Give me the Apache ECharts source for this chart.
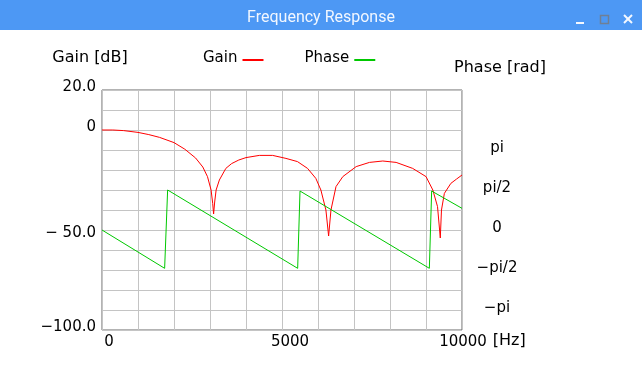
<!DOCTYPE html>
<html>
<head>
<meta charset="utf-8">
<script src="https://cdn.jsdelivr.net/npm/echarts@6/dist/echarts.min.js"></script>
<style>
html,body{margin:0;padding:0;background:#fff;}
#chart{width:642px;height:390px;}
</style>
</head>
<body>
<div id="chart"></div>
<script>
// ---- data ----
const gainFreq = [0, 300, 600, 1000, 1300, 1600, 2000, 2300, 2600, 2800, 2930, 3030, 3075, 3100, 3130, 3170, 3260, 3440, 3600, 3800, 4000, 4370, 4740, 5110, 5430, 5710, 5940, 6080, 6220, 6295, 6360, 6500, 6690, 7060, 7430, 7800, 8170, 8630, 9000, 9190, 9320, 9397, 9430, 9510, 9690, 9850, 10000];
const gainDb = [0, 0, -0.3, -1.2, -2.3, -3.7, -6.3, -9.6, -14, -18.5, -23.3, -30, -36.7, -42, -36, -30, -25, -19.2, -16.8, -15, -13.8, -12.7, -12.7, -14.2, -15.8, -19.2, -24.2, -30, -40, -53, -40, -28.3, -23.3, -18.3, -16.2, -15.5, -16.2, -19.2, -23.3, -30, -38.3, -54, -40, -31.7, -26.7, -24.5, -22.5];
const phaseFreq = [0, 1740, 1823, 5435, 5500, 9093, 9157, 10000];
const phaseRad = [0, -1.505, 1.571, -1.505, 1.53, -1.505, 1.53, 0.851];

const freqTickValues = [0, 5000, 10000];
const freqTickLabels = ['0', '5000', '10000'];
const gainTickValues = [20, 0, -50, -100];
const gainTickLabels = ['20.0', '0', '\u2212 50.0', '\u2212100.0'];
const phaseTickHalfPi = [2, 1, 0, -1, -2];
const phaseTickLabels = ['pi', 'pi/2', '0', '\u2212pi/2', '\u2212pi'];
const legendNames = ['Gain', 'Phase'];
const seriesColors = ['#ff0000', '#00c800'];

// ---- chart ----
const FONT = 'DejaVu Sans';
const chart = echarts.init(document.getElementById('chart'), null, {renderer: 'canvas'});
const gainData = gainFreq.map((f, i) => [f, gainDb[i]]);
const phaseData = phaseFreq.map((f, i) => [f, phaseRad[i]]);
const txt = {fontFamily: FONT, fontSize: 15, color: '#000'};

const xShift = [14, 16, 2];

chart.setOption({
  animation: false,
  backgroundColor: '#fff',
  title: {
    text: 'Frequency Response',
    left: 'center',
    top: 5,
    textStyle: {color: '#f2f7ff', fontSize: 16, fontWeight: 'normal', fontFamily: 'Roboto'}
  },
  graphic: [
    {type: 'rect', z: 0, shape: {x: 0, y: 0, width: 642, height: 30}, style: {fill: '#4d98f4'}},
    {type: 'rect', z: 1, shape: {x: 576, y: 22, width: 8, height: 2}, style: {fill: '#f4f8ff'}},
    {type: 'rect', z: 1, shape: {x: 600.5, y: 15.5, width: 8, height: 8}, style: {fill: 'none', stroke: '#6f7f95', lineWidth: 1.5}},
    {type: 'line', z: 1, shape: {x1: 624, y1: 15, x2: 632, y2: 23}, style: {stroke: '#f4f8ff', lineWidth: 2}},
    {type: 'line', z: 1, shape: {x1: 632, y1: 15, x2: 624, y2: 23}, style: {stroke: '#f4f8ff', lineWidth: 2}}
  ],
  legend: {
    data: legendNames,
    left: 198,
    top: 45.5,
    align: 'right',
    itemGap: 40,
    itemWidth: 21,
    itemHeight: 2,
    formatter: name => '{t|' + name + '}',
    textStyle: {
      fontFamily: FONT, fontSize: 15, color: '#000',
      rich: {t: {fontFamily: FONT, fontSize: 15, color: '#000', padding: [0, 0, 4, 0]}}
    }
  },
  grid: {
    left: 102, top: 90, width: 360, height: 240,
    show: true, borderColor: '#666', borderWidth: 1, containLabel: false
  },
  xAxis: {
    type: 'value', min: 0, max: 10000, interval: 1000,
    name: '[Hz]', nameLocation: 'end', nameGap: 27,
    nameTextStyle: {fontFamily: FONT, fontSize: 16, color: '#000', verticalAlign: 'top', padding: [3, 0, 0, 0]},
    axisLine: {show: false, onZero: false}, axisTick: {show: false},
    splitLine: {show: true, lineStyle: {color: '#c4c4c4', width: 1}},
    axisLabel: {
      margin: 5, fontFamily: FONT, fontSize: 15, color: '#000',
      formatter: v => {
        const i = freqTickValues.indexOf(v);
        return i < 0 ? '' : '{s' + i + '|' + freqTickLabels[i] + '}';
      },
      rich: {
        s0: Object.assign({}, txt, {padding: [0, 0, 0, xShift[0]]}),
        s1: Object.assign({}, txt, {padding: [0, 0, 0, xShift[1]]}),
        s2: Object.assign({}, txt, {padding: [0, 0, 0, xShift[2]]})
      }
    }
  },
  yAxis: [
    {
      type: 'value', min: -100, max: 20, interval: 10,
      name: 'Gain [dB]', nameLocation: 'end', nameGap: 24,
      nameTextStyle: {fontFamily: FONT, fontSize: 16, color: '#000', align: 'center', padding: [0, 24, 0, 0]},
      axisLine: {show: false, onZero: false}, axisTick: {show: false},
      splitLine: {show: true, lineStyle: {color: '#c4c4c4', width: 1}},
      axisLabel: {
        margin: 6, fontFamily: FONT, fontSize: 15, color: '#000',
        formatter: v => {
          const i = gainTickValues.indexOf(v);
          if (i < 0) return '';
          return (v === -50 ? '{m|' : '{u|') + gainTickLabels[i] + '}';
        },
        rich: {
          u: Object.assign({}, txt, {padding: [0, 0, 6, 0]}),
          m: Object.assign({}, txt, {padding: [6, 0, 0, 0]})
        }
      }
    },
    {
      type: 'value', position: 'right',
      min: -1.25 * Math.PI, max: 1.75 * Math.PI, interval: 0.25 * Math.PI,
      name: 'Phase [rad]', nameLocation: 'end', nameGap: 14,
      nameTextStyle: {fontFamily: FONT, fontSize: 16, color: '#000', align: 'center', padding: [0, 0, 0, 76]},
      axisLine: {show: false, onZero: false}, axisTick: {show: false}, splitLine: {show: false},
      axisLabel: {
        margin: 35, align: 'center', fontFamily: FONT, fontSize: 15, color: '#000',
        formatter: v => {
          const m = v / (Math.PI / 2);
          const r = Math.round(m);
          if (Math.abs(m - r) > 1e-3) return '';
          const i = phaseTickHalfPi.indexOf(r);
          return i < 0 ? '' : '{u|' + phaseTickLabels[i] + '}';
        },
        rich: {u: Object.assign({}, txt, {padding: [0, 0, 4, 0]})}
      }
    }
  ],
  series: [
    {
      name: legendNames[0], type: 'line', yAxisIndex: 0, data: gainData,
      showSymbol: false, symbol: 'none', smooth: false,
      lineStyle: {color: seriesColors[0], width: 1}, itemStyle: {color: seriesColors[0]}
    },
    {
      name: legendNames[1], type: 'line', yAxisIndex: 1, data: phaseData,
      showSymbol: false, symbol: 'none', smooth: false,
      lineStyle: {color: seriesColors[1], width: 1}, itemStyle: {color: seriesColors[1]}
    }
  ]
});
</script>
</body>
</html>
